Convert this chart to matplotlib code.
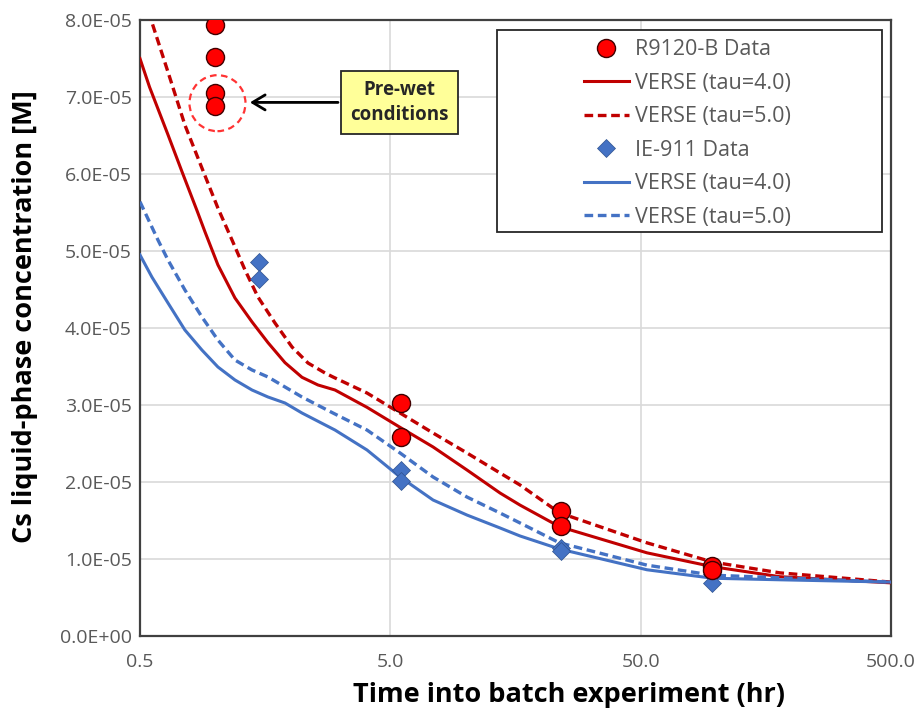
import matplotlib
matplotlib.use("Agg")
import matplotlib.pyplot as plt
import matplotlib.transforms as mtransforms
from matplotlib.patches import Circle, Rectangle
from matplotlib.ticker import FixedLocator, FuncFormatter, NullLocator

plt.rcParams['font.family'] = ['Open Sans', 'DejaVu Sans']

# 实验数据 (hr, M)
r9120_t = [1.0, 1.0, 1.0, 1.0, 5.5, 5.5, 24.0, 24.0, 96.0, 96.0]
r9120_c = [7.94e-5, 7.52e-5, 7.05e-5, 6.88e-5, 3.03e-5, 2.58e-5, 1.62e-5, 1.43e-5, 0.91e-5, 0.86e-5]
ie911_t = [1.5, 1.5, 5.5, 5.5, 24.0, 24.0, 96.0, 96.0]
ie911_c = [4.86e-5, 4.64e-5, 2.16e-5, 2.01e-5, 1.14e-5, 1.10e-5, 0.80e-5, 0.69e-5]

# VERSE 模拟曲线
red_tau4_t = [0.5, 0.546, 0.647, 0.736, 0.846, 0.909, 1.024, 1.198, 1.401, 1.623, 1.898, 2.219, 2.571,
              3.006, 4.035, 5.47, 7.41, 10.12, 13.72, 16.49, 23.7, 53.0, 97.0, 180.0, 500.0]
red_tau4_c = [7.50e-5, 7.13e-5, 6.51e-5, 6.03e-5, 5.52e-5, 5.25e-5, 4.82e-5, 4.39e-5, 4.08e-5, 3.81e-5,
              3.55e-5, 3.36e-5, 3.26e-5, 3.195e-5, 2.97e-5, 2.71e-5, 2.455e-5, 2.156e-5, 1.857e-5,
              1.70e-5, 1.42e-5, 1.08e-5, 0.90e-5, 0.77e-5, 0.69e-5]
red_tau5_t = [0.5, 0.558, 0.647, 0.756, 0.884, 1.024, 1.166, 1.314, 1.480, 1.731, 2.025, 2.346, 2.742,
              2.951, 4.035, 5.47, 7.41, 10.12, 13.72, 16.49, 23.7, 53.0, 97.0, 180.0, 500.0]
red_tau5_c = [8.45e-5, 7.97e-5, 7.325e-5, 6.636e-5, 6.078e-5, 5.558e-5, 5.143e-5, 4.753e-5, 4.403e-5,
              4.065e-5, 3.753e-5, 3.545e-5, 3.416e-5, 3.364e-5, 3.156e-5, 2.896e-5, 2.636e-5, 2.377e-5,
              2.117e-5, 1.961e-5, 1.60e-5, 1.21e-5, 0.96e-5, 0.82e-5, 0.70e-5]
blue_tau4_t = [0.5, 0.558, 0.647, 0.756, 0.884, 1.024, 1.198, 1.401, 1.623, 1.898, 2.219, 3.006, 4.035,
               5.47, 7.41, 10.12, 13.72, 16.49, 23.7, 53.0, 97.0, 180.0, 500.0]
blue_tau4_c = [4.95e-5, 4.662e-5, 4.325e-5, 3.974e-5, 3.714e-5, 3.494e-5, 3.325e-5, 3.195e-5, 3.104e-5,
               3.026e-5, 2.896e-5, 2.675e-5, 2.416e-5, 2.065e-5, 1.766e-5, 1.571e-5, 1.403e-5, 1.299e-5,
               1.13e-5, 0.86e-5, 0.75e-5, 0.73e-5, 0.70e-5]
blue_tau5_t = [0.5, 0.590, 0.647, 0.756, 0.884, 1.024, 1.198, 1.401, 1.623, 1.898, 2.219, 2.951, 4.035,
               5.47, 7.41, 10.12, 13.72, 16.49, 23.7, 53.0, 97.0, 500.0]
blue_tau5_c = [5.64e-5, 5.143e-5, 4.883e-5, 4.494e-5, 4.143e-5, 3.844e-5, 3.584e-5, 3.455e-5, 3.364e-5,
               3.234e-5, 3.104e-5, 2.896e-5, 2.675e-5, 2.377e-5, 2.065e-5, 1.805e-5, 1.597e-5, 1.468e-5,
               1.21e-5, 0.92e-5, 0.79e-5, 0.70e-5]

x_ticks = [0.5, 5.0, 50.0, 500.0]
x_tick_labels = ['0.5', '5.0', '50.0', '500.0']
y_ticks = [i * 1e-5 for i in range(9)]

RED = '#FF0000'
DARKRED = '#C00000'
BLUE = '#4472C4'

fig = plt.figure(figsize=(9.19, 7.15), dpi=100)
ax = fig.add_axes([0.1523, 0.1105, 0.8172, 0.8615])

ax.plot(red_tau4_t, red_tau4_c, color=DARKRED, lw=2.2, label='VERSE (tau=4.0)', zorder=3)
ax.plot(red_tau5_t, red_tau5_c, color=DARKRED, lw=2.4, ls=(0, (2.6, 1.4)), label='VERSE (tau=5.0)', zorder=3)
ax.plot(blue_tau4_t, blue_tau4_c, color=BLUE, lw=2.2, label='VERSE (tau=4.0)', zorder=3)
ax.plot(blue_tau5_t, blue_tau5_c, color=BLUE, lw=2.4, ls=(0, (2.6, 1.4)), label='VERSE (tau=5.0)', zorder=3)
ax.plot(ie911_t, ie911_c, ls='none', marker='D', ms=9, color=BLUE, mec='#2F528F', mew=0.5,
        label='IE-911 Data', zorder=4)
ax.plot(r9120_t, r9120_c, ls='none', marker='o', ms=13, color=RED, mec='#400000', mew=1.0,
        label='R9120-B Data', zorder=5)

ax.set_xscale('log')
ax.set_xlim(0.5, 500)
ax.set_ylim(0, 8e-5)
ax.xaxis.set_major_locator(FixedLocator(x_ticks))
ax.xaxis.set_minor_locator(NullLocator())
ax.set_xticklabels(x_tick_labels)
ax.set_yticks(y_ticks)
ax.yaxis.set_major_formatter(FuncFormatter(lambda v, p: f"{v:.1E}"))
ax.tick_params(axis='y', length=0, labelsize=14, labelcolor='#595959', pad=6)
ax.tick_params(axis='x', length=0, labelsize=14, labelcolor='#595959', pad=12)
ax.grid(True, color='#D9D9D9', lw=1.2)
ax.set_axisbelow(True)
for s in ax.spines.values():
    s.set_color('#404040')
    s.set_linewidth(1.6)

ax.set_xlabel('Time into batch experiment (hr)', fontsize=19.5, fontweight='bold')
ax.set_ylabel('Cs liquid-phase concentration [M]', fontsize=19.5, fontweight='bold')
ax.xaxis.set_label_coords(0.571, -0.075)
ax.yaxis.set_label_coords(-0.136, 0.519)

# 图例
h, l = ax.get_legend_handles_labels()
order = [5, 0, 1, 4, 2, 3]
leg = ax.legend([h[i] for i in order], [l[i] for i in order], loc='upper left',
                bbox_to_anchor=(0.5765, 0.986), frameon=False, fontsize=15.5, borderpad=0,
                handlelength=2.1, handletextpad=0.3, labelspacing=0.58, labelcolor='#595959')
ax.add_patch(Rectangle((0.4754, 0.6558), 0.5126, 0.328, transform=ax.transAxes, fill=True,
                       facecolor='white', edgecolor='#262626', lw=1.3, zorder=6))
leg.set_zorder(7)

# 预湿条件标注
trans = fig.dpi_scale_trans + mtransforms.ScaledTranslation(1.02, 6.92e-5, ax.transData)
ax.add_patch(Circle((0, 0), 0.28, transform=trans, fill=False, edgecolor='#FF3333',
                    lw=1.6, ls=(0, (3, 2)), zorder=6))
ax.annotate('Pre-wet\nconditions', xy=(1.34, 6.93e-5), xytext=(5.45, 6.93e-5),
            fontsize=13.5, fontweight='bold', color='#262626', ha='center', va='center',
            linespacing=1.35,
            bbox=dict(boxstyle='square,pad=0.48', facecolor='#FFFF99', edgecolor='#262626', lw=1.3),
            arrowprops=dict(arrowstyle='->,head_length=0.5,head_width=0.3', color='black', lw=2.0,
                            mutation_scale=18),
            zorder=7)

fig.savefig('out.png', dpi=100)
